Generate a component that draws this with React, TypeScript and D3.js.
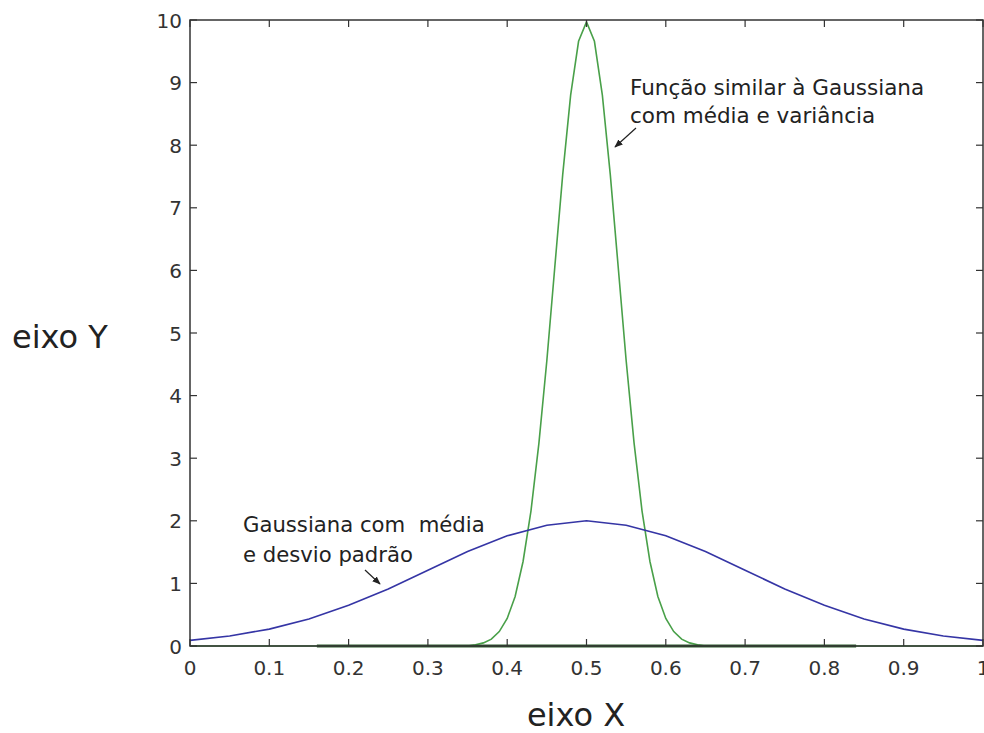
import React from "react";
import * as d3 from "d3";

const xTickValues = [0, 0.1, 0.2, 0.3, 0.4, 0.5, 0.6, 0.7, 0.8, 0.9, 1];
const xTickLabels = ["0", "0.1", "0.2", "0.3", "0.4", "0.5", "0.6", "0.7", "0.8", "0.9", "1"];
const yTickValues = [0, 1, 2, 3, 4, 5, 6, 7, 8, 9, 10];
const yTickLabels = ["0", "1", "2", "3", "4", "5", "6", "7", "8", "9", "10"];

// Gaussian (blue) – mean 0.5, std dev 0.2
const blueX = [0, 0.05, 0.1, 0.15, 0.2, 0.25, 0.3, 0.35, 0.4, 0.45, 0.5, 0.55, 0.6, 0.65, 0.7, 0.75, 0.8, 0.85, 0.9, 0.95, 1];
const blueY = [0.09, 0.16, 0.27, 0.43, 0.65, 0.91, 1.21, 1.51, 1.76, 1.93, 2.0, 1.93, 1.76, 1.51, 1.21, 0.91, 0.65, 0.43, 0.27, 0.16, 0.09];

// Gaussian-like function (green) – peak 10 at 0.5
const greenX = [0, 0.35, 0.36, 0.37, 0.38, 0.39, 0.4, 0.41, 0.42, 0.43, 0.44, 0.45, 0.46, 0.47, 0.48, 0.49, 0.5,
  0.51, 0.52, 0.53, 0.54, 0.55, 0.56, 0.57, 0.58, 0.59, 0.6, 0.61, 0.62, 0.63, 0.64, 0.65, 1];
const greenY = [0, 0, 0.02, 0.05, 0.11, 0.23, 0.44, 0.79, 1.35, 2.16, 3.24, 4.56, 6.05, 7.53, 8.8, 9.66, 9.97,
  9.66, 8.8, 7.53, 6.05, 4.56, 3.24, 2.16, 1.35, 0.79, 0.44, 0.23, 0.11, 0.05, 0.02, 0, 0];

// dark green segment lying on the x axis
const segmentX = [0.16, 0.84];
const segmentY = [0, 0];

const FONT = "'DejaVu Sans', sans-serif";

export default function App() {
  const W = 984, H = 733;
  const left = 190, right = 983, top = 20, bottom = 646;
  const x = d3.scaleLinear().domain([0, 1]).range([left, right]);
  const y = d3.scaleLinear().domain([0, 10]).range([bottom, top]);
  const line = d3.line<[number, number]>().x(d => x(d[0])).y(d => y(d[1]));

  const bluePts = blueX.map((v, i) => [v, blueY[i]] as [number, number]);
  const greenPts = greenX.map((v, i) => [v, greenY[i]] as [number, number]);
  const segPts = segmentX.map((v, i) => [v, segmentY[i]] as [number, number]);
  const axisColor = "#333";
  const tickLen = 7;

  return (
    <svg width={W} height={H} style={{ position: "absolute", left: 0, top: 0, background: "#fff" }}>
      <defs>
        <marker id="arr" viewBox="0 0 10 10" refX="9" refY="5" markerWidth="7" markerHeight="7" orient="auto">
          <path d="M0,1 L10,5 L0,9 z" fill="#222" />
        </marker>
      </defs>
      <rect x={0} y={0} width={W} height={H} fill="#fff" />
      {/* curves */}
      <path d={line(greenPts) || ""} fill="none" stroke="#49a049" strokeWidth={1.6} />
      <path d={line(segPts) || ""} fill="none" stroke="#2e5e2e" strokeWidth={3.2} />
      <path d={line(bluePts) || ""} fill="none" stroke="#3535a5" strokeWidth={1.6} />
      {/* box */}
      <rect x={left} y={top} width={right - left} height={bottom - top} fill="none" stroke={axisColor} strokeWidth={1.5} />
      {/* x ticks */}
      {xTickValues.map((v, i) => (
        <g key={"xt" + i}>
          <line x1={x(v)} x2={x(v)} y1={bottom} y2={bottom - tickLen} stroke={axisColor} strokeWidth={1.2} />
          <line x1={x(v)} x2={x(v)} y1={top} y2={top + tickLen} stroke={axisColor} strokeWidth={1.2} />
          <text x={x(v)} y={675} textAnchor="middle" fontFamily={FONT} fontSize={20} fill="#333">{xTickLabels[i]}</text>
        </g>
      ))}
      {/* y ticks */}
      {yTickValues.map((v, i) => (
        <g key={"yt" + i}>
          <line x1={left} x2={left + tickLen} y1={y(v)} y2={y(v)} stroke={axisColor} strokeWidth={1.2} />
          <line x1={right} x2={right - tickLen} y1={y(v)} y2={y(v)} stroke={axisColor} strokeWidth={1.2} />
          <text x={182} y={y(v) + 7.5} textAnchor="end" fontFamily={FONT} fontSize={20} fill="#333">{yTickLabels[i]}</text>
        </g>
      ))}
      {/* axis labels */}
      <text x={576} y={726} textAnchor="middle" fontFamily={FONT} fontSize={32} fill="#222">eixo X</text>
      <text x={12} y={348} textAnchor="start" fontFamily={FONT} fontSize={32} fill="#222">eixo Y</text>
      {/* annotations */}
      <text x={630} y={95} fontFamily={FONT} fontSize={21.5} fill="#222">Função similar à Gaussiana</text>
      <text x={630} y={123} fontFamily={FONT} fontSize={21.5} fill="#222">com média e variância</text>
      <line x1={636} y1={128} x2={615} y2={147} stroke="#222" strokeWidth={1.2} markerEnd="url(#arr)" />
      <text x={243} y={532} fontFamily={FONT} fontSize={21.2} fill="#222" style={{ whiteSpace: "pre" }}>{"Gaussiana com  média"}</text>
      <text x={243} y={562} fontFamily={FONT} fontSize={21.2} fill="#222">e desvio padrão</text>
      <line x1={365} y1={570} x2={380} y2={584} stroke="#222" strokeWidth={1.2} markerEnd="url(#arr)" />
    </svg>
  );
}
